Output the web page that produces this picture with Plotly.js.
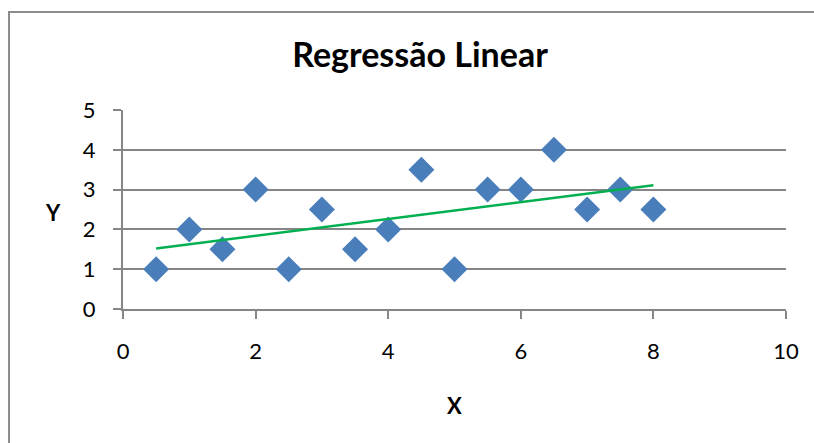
<!DOCTYPE html>
<html>
<head>
<meta charset="utf-8">
<script src="https://cdn.plot.ly/plotly-3.0.1.min.js"></script>
<style>
html,body{margin:0;padding:0;background:#fff;overflow:hidden;}
#chart{width:814px;height:443px;position:absolute;left:0;top:0;}
#frame{position:absolute;left:8px;top:11px;width:830px;height:460px;border:2px solid #8c8c8c;pointer-events:none;}
</style>
</head>
<body>
<div id="chart"></div>
<div id="frame"></div>
<script>
const xValues = [0.5, 1, 1.5, 2, 2.5, 3, 3.5, 4, 4.5, 5, 5.5, 6, 6.5, 7, 7.5, 8];
const yValues = [1, 2, 1.5, 3, 1, 2.5, 1.5, 2, 3.5, 1, 3, 3, 4, 2.5, 3, 2.5];
const trendX = [0.5, 8];
const trendY = [1.52, 3.11];
const xTicks = [0, 2, 4, 6, 8, 10];
const yTicks = [0, 1, 2, 3, 4, 5];

const font = "Lato, 'Open Sans', sans-serif";

const traces = [
  {
    x: xValues, y: yValues, type: 'scatter', mode: 'markers',
    marker: {symbol: 'diamond', size: 20, color: '#4a7ebb', line: {width: 0}},
    hoverinfo: 'x+y', showlegend: false
  },
  {
    x: trendX, y: trendY, type: 'scatter', mode: 'lines',
    line: {color: '#00b050', width: 2.5},
    showlegend: false
  }
];

const layout = {
  width: 814, height: 443,
  margin: {l: 123, r: 28, t: 110, b: 134},
  paper_bgcolor: '#ffffff', plot_bgcolor: '#ffffff',
  font: {family: font, size: 22, color: '#000'},
  title: {text: '<b>Regressão Linear</b>', font: {family: font, size: 34, color: '#000'},
          x: 0.516, xanchor: 'center', y: 0.875, yanchor: 'middle'},
  xaxis: {
    range: [0, 10], tickvals: xTicks, ticktext: xTicks.map(String),
    showgrid: false, zeroline: false, showline: true, linecolor: '#868686', linewidth: 2,
    ticks: 'outside', ticklen: 8, tickcolor: '#868686', tickwidth: 2,
    ticklabelstandoff: 14,
    tickfont: {family: font, size: 22, color: '#000'},
    title: {text: '<b>X</b>', font: {family: font, size: 22, color: '#000'}, standoff: 35}
  },
  yaxis: {
    range: [0, 5], tickvals: yTicks, ticktext: yTicks.map(String),
    showgrid: true, gridcolor: '#868686', gridwidth: 2,
    zeroline: false, showline: true, linecolor: '#868686', linewidth: 2,
    ticks: 'outside', ticklen: 8, tickcolor: '#868686', tickwidth: 2,
    ticklabelstandoff: 13,
    tickfont: {family: font, size: 22, color: '#000'}
  },
  annotations: [{
    text: '<b>Y</b>', xref: 'paper', yref: 'paper', x: -0.1056, y: 0.485,
    xanchor: 'center', yanchor: 'middle', showarrow: false,
    font: {family: font, size: 22, color: '#000'}
  }]
};

Plotly.newPlot('chart', traces, layout, {displayModeBar: false, staticPlot: true});
</script>
</body>
</html>
